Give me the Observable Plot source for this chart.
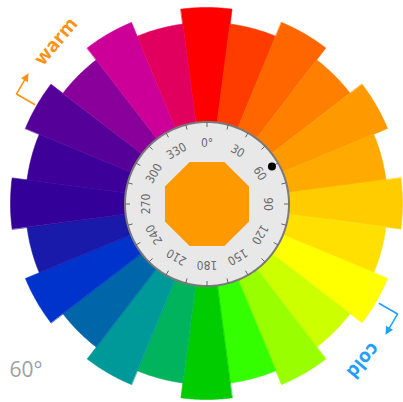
<!DOCTYPE html>
<html><head><meta charset="utf-8">
<script src="https://cdn.jsdelivr.net/npm/d3@7"></script>
<script src="https://cdn.jsdelivr.net/npm/@observablehq/plot@0.6"></script>
<style>html,body{margin:0;padding:0;background:#fff;} #chart svg{display:block;}</style>
</head><body><div id="chart"></div>
<script>
// ---- data ----
const hueAngles = [0,15,30,45,60,75,90,105,120,135,150,165,180,195,210,225,240,255,270,285,300,315,330,345];
const segRadius = [196,181,196,181,196,181,196,181,196,181,196,181,196,181,196,181,196,181,196,181,196,181,196,181];
const segColors = ["#FF0000","#FF3C00","#FF6600","#FF8000","#FF9900","#FFAA00","#FFCC00","#FFE000",
                   "#FFFF00","#CCFF00","#99FF00","#33FF00","#00CC00","#00B35C","#009999","#0066AA",
                   "#0033CC","#1A1AAA","#330099","#3D0099","#550099","#880099","#CC0099","#E2005E"];
const ringLabels = ["0°","30","60","90","120","150","180","210","240","270","300","330"];
const ringLabelAngles = [0,30,60,90,120,150,180,210,240,270,300,330];
const tickAngles = [0,15,30,45,60,75,90,105,120,135,150,165,180,195,210,225,240,255,270,285,300,315,330,345];
const selectedAngle = 60;
const selectedLabel = "60°";
const hints = [
  {text: "warm", angle: 300, color: "#FF9210"},
  {text: "cold", angle: 120, color: "#1EA0FF"}
];

// ---- geometry helpers ----
const rad = d => d * Math.PI / 180;
const px = (a, r) => r * Math.sin(rad(a));
const py = (a, r) => r * Math.cos(rad(a));
const R_RING = 82, R_TICK_IN = 77, R_LABEL = 61, R_DOT = 75, R_OCT = 45.5;

const wedgePts = [];
hueAngles.forEach((a, i) => {
  for (let t = a - 7.5; t <= a + 7.5 + 1e-9; t += 0.25)
    wedgePts.push({seg: i, t, r: segRadius[i], color: segColors[i]});
});
const circlePts = d3.range(0, 361, 1).map(t => ({t, r: R_RING}));
const octPts = d3.range(0, 9).map(k => ({t: 22.5 + 45 * k, r: R_OCT}));

function arrowGeom(a) {
  const c = [px(a, 220), py(a, 220)];
  const tg = [Math.cos(rad(a)), -Math.sin(rad(a))];
  const n = [Math.sin(rad(a)), Math.cos(rad(a))];
  const line = [[px(a, 199), py(a, 199)], c, [c[0] + 17 * tg[0], c[1] + 17 * tg[1]]];
  const b = [c[0] + 16 * tg[0], c[1] + 16 * tg[1]];
  const head = [[b[0] + 4 * n[0], b[1] + 4 * n[1]], [c[0] + 24 * tg[0], c[1] + 24 * tg[1]],
                [b[0] - 4 * n[0], b[1] - 4 * n[1]], [b[0] + 4 * n[0], b[1] + 4 * n[1]]];
  return {line, head};
}

const marks = [
  Plot.area(wedgePts, {x1: d => px(d.t, d.r), y1: d => py(d.t, d.r), x2: 0, y2: 0,
    z: "seg", fill: "color", stroke: "color", strokeWidth: 0.6}),
  Plot.line(circlePts, {x: d => px(d.t, d.r), y: d => py(d.t, d.r), fill: "#e8e8e8", stroke: "#7a7a7a", strokeWidth: 2}),
  Plot.link(tickAngles, {x1: a => px(a, R_RING), y1: a => py(a, R_RING), x2: a => px(a, R_TICK_IN), y2: a => py(a, R_TICK_IN),
    stroke: "#666", strokeWidth: 1}),
  Plot.text(ringLabelAngles.map((a, i) => ({a, label: ringLabels[i]})), {
    x: d => px(d.a, R_LABEL), y: d => py(d.a, R_LABEL), text: "label", rotate: d => d.a,
    fontSize: 12, fill: "#6a6a6a", fontFamily: "'Liberation Sans Narrow', 'DejaVu Sans Condensed', sans-serif"}),
  Plot.line(octPts, {x: d => px(d.t, d.r), y: d => py(d.t, d.r), fill: "#FF9900", stroke: "none"}),
  Plot.dot([selectedAngle], {x: a => px(a, R_DOT), y: a => py(a, R_DOT), r: 4, fill: "black", stroke: "none"}),
  Plot.text([selectedLabel], {text: d => d, frameAnchor: "bottom-left", textAnchor: "start", lineAnchor: "bottom",
    dx: 9, dy: -26, fontSize: 21, fill: "#a0a0a0", fontFamily: "Open Sans"})
];
hints.forEach(h => {
  const g = arrowGeom(h.angle);
  marks.push(Plot.line(g.line, {x: d => d[0], y: d => d[1], stroke: h.color, strokeWidth: 1.5}));
  marks.push(Plot.line(g.head, {x: d => d[0], y: d => d[1], fill: h.color, stroke: "none"}));
  const ta = h.angle + 10;
  marks.push(Plot.text([h], {x: d => px(ta, 214), y: d => py(ta, 214), text: "text", rotate: ta,
    textAnchor: "start", lineAnchor: "bottom", fill: h.color, fontSize: 19, fontWeight: "bold", fontFamily: "Open Sans"}));
});

const chart = Plot.plot({
  width: 403, height: 402, margin: 0,
  x: {domain: [-206.5, 196.5], axis: null},
  y: {domain: [-198.5, 203.5], axis: null},
  color: {type: "identity"},
  style: {background: "white", overflow: "visible"},
  marks
});
document.getElementById("chart").append(chart);
</script>
</body></html>
